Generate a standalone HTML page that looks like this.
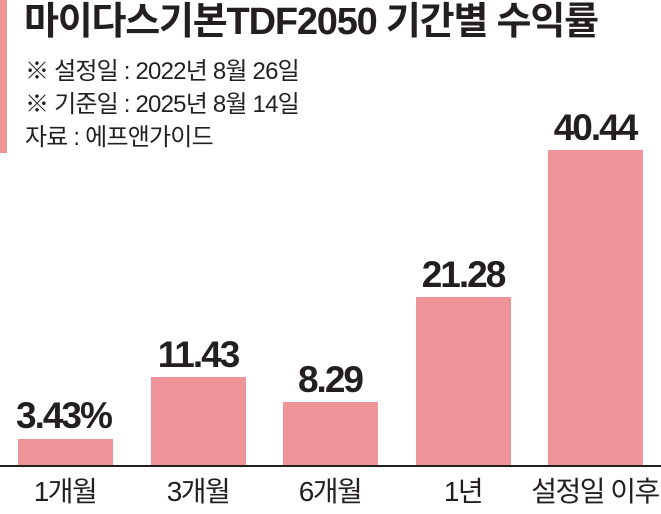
<!DOCTYPE html>
<html><head><meta charset="utf-8"><style>
body{margin:0;width:661px;height:514px;background:#fff;position:relative;overflow:hidden;font-family:"Liberation Sans","Noto Sans CJK KR",sans-serif;color:#231f20}
.a{position:absolute;white-space:nowrap}
.bar{position:absolute;background:#ef9599;width:95px}
.v{position:absolute;width:160px;text-align:center;font-weight:bold;font-size:37px;letter-spacing:-2px;line-height:40px}
.l{position:absolute;width:180px;text-align:center;font-size:28px;top:475px;letter-spacing:-1.5px;line-height:34px}
.s{font-size:24px;letter-spacing:-0.8px;line-height:30px}
</style></head><body>
<div class="a" style="left:0;top:0;width:7px;height:153px;background:#ef9599"></div>
<div class="a" style="left:24px;top:0px;font-size:38px;line-height:44px;font-weight:bold;letter-spacing:-1.2px">마이다스기본TDF2050 기간별 수익률</div>
<div class="a s" style="left:25px;top:57px">※ 설정일 : 2022년 8월 26일</div>
<div class="a s" style="left:25px;top:90px">※ 기준일 : 2025년 8월 14일</div>
<div class="a s" style="left:25px;top:123px">자료 : 에프앤가이드</div>
<div class="bar" style="left:18px;top:439px;height:27px"></div>
<div class="bar" style="left:151px;top:377px;height:89px"></div>
<div class="bar" style="left:283px;top:402px;height:64px"></div>
<div class="bar" style="left:416px;top:297px;height:169px"></div>
<div class="bar" style="left:548px;top:150px;height:316px"></div>
<div class="a" style="left:0;top:465px;width:661px;height:2px;background:#231f20"></div>
<div class="v" style="left:16px;top:396px;text-align:left">3.43%</div>
<div class="v" style="left:118px;top:335px">11.43</div>
<div class="v" style="left:250px;top:360px">8.29</div>
<div class="v" style="left:383px;top:255px">21.28</div>
<div class="v" style="left:515px;top:108px">40.44</div>
<div class="l" style="left:-25px">1개월</div>
<div class="l" style="left:108px">3개월</div>
<div class="l" style="left:240px">6개월</div>
<div class="l" style="left:373px">1년</div>
<div class="l" style="left:505px">설정일 이후</div>
</body></html>
